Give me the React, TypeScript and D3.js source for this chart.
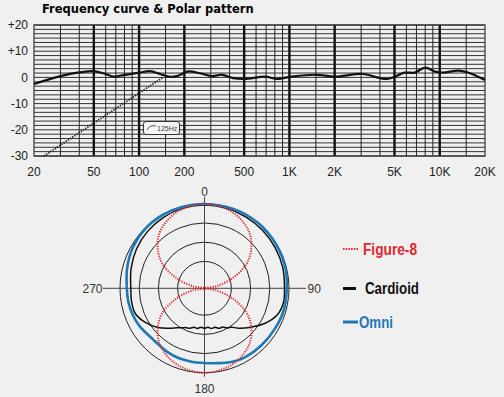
import React, { useEffect, useRef } from 'react';
import * as d3 from 'd3';

// frequency response
const freqHz = [20, 30, 40, 50, 60, 68, 79, 100, 118, 138, 157, 178, 212, 254, 306, 358, 422, 505, 690, 814, 1030, 1520, 2000, 3070, 4440, 5860, 6800, 8000, 9300, 10500, 13400, 15900, 20000];
const responseDb = [-2.5, 0.5, 1.9, 2.4, 1.3, 0.3, 0.9, 1.8, 2.4, 1.3, 0.3, 0.5, 2.3, 1.6, 0.5, 1.0, -0.3, -0.6, 0.3, -0.6, 0.3, 1.0, 0.3, 1.3, -0.6, 1.8, 1.8, 3.7, 2.2, 1.8, 2.6, 1.6, -1.0];

// 125Hz low cut
const lowCutHz = [23.3, 144];
const lowCutDb = [-30, 0];

const freqTickValues = [20, 50, 100, 200, 500, 1000, 2000, 5000, 10000, 20000];
const freqTickLabels = ['20', '50', '100', '200', '500', '1K', '2K', '5K', '10K', '20K'];
const majorFreqLines = [50, 100, 200, 500, 1000, 2000, 5000, 10000];
const minorFreqLines = [30, 40, 60, 70, 80, 90, 150, 300, 400, 600, 700, 800, 900, 1500, 3000, 4000, 6000, 7000, 8000, 9000, 15000];
const dbTickValues = [20, 10, 0, -10, -20, -30];
const dbTickLabels = ['+20', '+10', '0', '-10', '-20', '-30'];

// polar pattern, level in dB by angle in degrees
const fig8Angles = [0, 10, 20, 30, 40, 50, 60, 70, 80, 90, 100, 110, 120, 130, 140, 150, 160, 170, 180, 190, 200, 210, 220, 230, 240, 250, 260, 270, 280, 290, 300, 310, 320, 330, 340, 350];
const fig8Db = [0, -0.3, -0.9, -2.0, -3.6, -6.1, -9.4, -14.2, -18.9, -22, -18.9, -14.2, -9.4, -6.1, -3.6, -2.0, -0.9, -0.3, 0, -0.3, -0.9, -2.0, -3.6, -6.1, -9.4, -14.2, -18.9, -22, -18.9, -14.2, -9.4, -6.1, -3.6, -2.0, -0.9, -0.3];

const cardioidAngles = [0, 15, 30, 45, 60, 75, 90, 100, 110, 120, 130, 140, 145, 150, 155, 160, 165, 170, 175, 180, 185, 190, 195, 200, 205, 210, 215, 220, 230, 240, 250, 260, 270, 285, 300, 315, 330, 345];
const cardioidDb = [-0.31, -0.39, -0.52, -0.65, -0.78, -0.91, -1.17, -1.1, -1.82, -3.78, -6.25, -8.46, -9.63, -10.08, -10.86, -10.91, -11.53, -11.38, -11.85, -11.59, -11.85, -11.4, -11.51, -10.96, -10.7, -10.13, -9.43, -8.46, -6.12, -4.22, -2.81, -2.7, -2.81, -2.21, -1.56, -1.04, -0.65, -0.39];

const omniAngles = [0, 20, 40, 60, 75, 90, 105, 120, 135, 150, 160, 170, 180, 190, 200, 210, 225, 240, 250, 260, 270, 285, 300, 315, 330, 345];
const omniDb = [-0.05, 0, 0, -0.13, -0.26, -0.57, -0.6, -0.86, -1.02, -1.17, -1.56, -2.21, -2.55, -2.6, -2.6, -2.81, -3.1, -2.42, -2.08, -1.87, -1.77, -1.17, -0.52, -0.13, 0, 0];

const ringDb = [0, -5, -10, -15];
const polarLabels = ['0', '90', '180', '270'];

const legendNames = ['Figure-8', 'Cardioid', 'Omni'];
const legendColors = ['#e3262d', '#111111', '#1f78b4'];

const App = () => {
  const ref = useRef<SVGSVGElement>(null);

  useEffect(() => {
    const svg = d3.select(ref.current);
    svg.selectAll('*').remove();

    svg.append('rect').attr('width', 504).attr('height', 397).attr('fill', '#f0f0f0');

    svg
      .append('text')
      .attr('x', 42)
      .attr('y', 13)
      .attr('font-family', 'DejaVu Sans')
      .attr('font-weight', 'bold')
      .attr('font-size', 11.5)
      .attr('fill', '#000')
      .text('Frequency curve & Polar pattern');

    // ---- frequency response ----
    const x = d3.scaleLog().domain([20, 20000]).range([34, 485]);
    const y = d3.scaleLinear().domain([-30, 20]).range([156, 25]);

    const grid = svg.append('g');
    const hLines = d3.range(0, 31).map((i) => -30 + (i * 50) / 30);
    grid
      .selectAll('line.h')
      .data(hLines)
      .enter()
      .append('line')
      .attr('x1', x(20))
      .attr('x2', x(20000))
      .attr('y1', (d) => y(d))
      .attr('y2', (d) => y(d))
      .attr('stroke', '#333')
      .attr('stroke-width', 1);

    grid
      .selectAll('line.minor')
      .data(minorFreqLines)
      .enter()
      .append('line')
      .attr('x1', (d) => x(d))
      .attr('x2', (d) => x(d))
      .attr('y1', y(20))
      .attr('y2', y(-30))
      .attr('stroke', '#222')
      .attr('stroke-width', 1);

    grid
      .selectAll('line.major')
      .data(majorFreqLines)
      .enter()
      .append('line')
      .attr('x1', (d) => x(d))
      .attr('x2', (d) => x(d))
      .attr('y1', y(20))
      .attr('y2', y(-30))
      .attr('stroke', '#111')
      .attr('stroke-width', 2.4);

    grid
      .append('rect')
      .attr('x', x(20))
      .attr('y', y(20))
      .attr('width', x(20000) - x(20))
      .attr('height', y(-30) - y(20))
      .attr('fill', 'none')
      .attr('stroke', '#333')
      .attr('stroke-width', 1.2);

    svg
      .selectAll('text.ylab')
      .data(dbTickValues)
      .enter()
      .append('text')
      .attr('x', 28)
      .attr('y', (d) => y(d))
      .attr('dy', '0.35em')
      .attr('text-anchor', 'end')
      .attr('font-family', 'Liberation Sans, Arial, sans-serif')
      .attr('font-size', 12)
      .attr('fill', '#222')
      .text((d, i) => dbTickLabels[i]);

    svg
      .selectAll('text.xlab')
      .data(freqTickValues)
      .enter()
      .append('text')
      .attr('x', (d) => x(d))
      .attr('y', 176)
      .attr('text-anchor', 'middle')
      .attr('font-family', 'Liberation Sans, Arial, sans-serif')
      .attr('font-size', 12)
      .attr('fill', '#222')
      .text((d, i) => freqTickLabels[i]);

    const lowCut = d3
      .line<number>()
      .x((d) => x(d))
      .y((d, i) => y(lowCutDb[i]));
    svg
      .append('path')
      .attr('d', lowCut(lowCutHz))
      .attr('fill', 'none')
      .attr('stroke', '#222')
      .attr('stroke-width', 2)
      .attr('stroke-dasharray', '1.3,1.3');

    const response = d3
      .line<number>()
      .x((d) => x(d))
      .y((d, i) => y(responseDb[i]))
      .curve(d3.curveCatmullRom.alpha(0.5));
    svg
      .append('path')
      .attr('d', response(freqHz))
      .attr('fill', 'none')
      .attr('stroke', '#111')
      .attr('stroke-width', 2.2);

    // 125Hz badge
    const badge = svg.append('g');
    badge
      .append('rect')
      .attr('x', 143.5)
      .attr('y', 121.5)
      .attr('width', 36)
      .attr('height', 13)
      .attr('rx', 2.5)
      .attr('fill', '#f5f5f5')
      .attr('stroke', '#333')
      .attr('stroke-width', 1);
    badge
      .append('path')
      .attr('d', 'M147,130 Q149,126 152,125.8 L156,125.8')
      .attr('fill', 'none')
      .attr('stroke', '#333')
      .attr('stroke-width', 0.8);
    badge
      .append('text')
      .attr('x', 157)
      .attr('y', 130.5)
      .attr('font-family', 'Liberation Sans, Arial, sans-serif')
      .attr('font-size', 7)
      .attr('fill', '#444')
      .text('125Hz');

    // ---- polar pattern ----
    const cx = 204.5;
    const cy = 288.3;
    const r = d3.scaleLinear().domain([-22, 0]).range([0, 84.5]).clamp(true);
    const polar = svg.append('g').attr('transform', `translate(${cx},${cy})`);

    polar
      .selectAll('circle')
      .data(ringDb)
      .enter()
      .append('circle')
      .attr('r', (d) => r(d))
      .attr('fill', 'none')
      .attr('stroke', '#222')
      .attr('stroke-width', 1);

    polar.append('line').attr('x1', -101.5).attr('x2', 101.5).attr('stroke', '#444').attr('stroke-width', 1);
    polar.append('line').attr('y1', -91.5).attr('y2', 88.5).attr('stroke', '#444').attr('stroke-width', 1);

    const labelPos = [
      [0, -97, 'middle'],
      [103, 0, 'start'],
      [0, 101, 'middle'],
      [-102, 0, 'end'],
    ];
    polar
      .selectAll('text')
      .data(polarLabels)
      .enter()
      .append('text')
      .attr('x', (d, i) => labelPos[i][0] as number)
      .attr('y', (d, i) => labelPos[i][1] as number)
      .attr('dy', '0.35em')
      .attr('text-anchor', (d, i) => labelPos[i][2] as string)
      .attr('font-family', 'Liberation Sans, Arial, sans-serif')
      .attr('font-size', 12)
      .attr('fill', '#333')
      .text((d) => d);

    const radial = (dbs: number[]) =>
      d3
        .lineRadial<number>()
        .angle((d) => (d * Math.PI) / 180)
        .radius((d, i) => r(dbs[i]))
        .curve(d3.curveCatmullRomClosed.alpha(0.5));

    polar
      .append('path')
      .attr('d', radial(cardioidDb)(cardioidAngles))
      .attr('fill', 'none')
      .attr('stroke', legendColors[1])
      .attr('stroke-width', 1.5);

    polar
      .append('path')
      .attr('d', radial(omniDb)(omniAngles))
      .attr('fill', 'none')
      .attr('stroke', legendColors[2])
      .attr('stroke-width', 2.6);

    polar
      .append('path')
      .attr('d', radial(fig8Db)(fig8Angles))
      .attr('fill', 'none')
      .attr('stroke', legendColors[0])
      .attr('stroke-width', 2)
      .attr('stroke-dasharray', '1.2,1.3');

    // legend
    const legendY = [249, 288.5, 322];
    const legendTextX = [363, 365, 359];
    const legendTextW = [54, 54, 34];
    const legendLineX2 = [359, 356, 358];
    const legend = svg.append('g');
    legend
      .selectAll('line')
      .data(legendNames)
      .enter()
      .append('line')
      .attr('x1', 343)
      .attr('x2', (d, i) => legendLineX2[i])
      .attr('y1', (d, i) => legendY[i])
      .attr('y2', (d, i) => legendY[i])
      .attr('stroke', (d, i) => legendColors[i])
      .attr('stroke-width', (d, i) => (i === 0 ? 2 : 3))
      .attr('stroke-dasharray', (d, i) => (i === 0 ? '1.5,1.2' : null));
    legend
      .selectAll('text')
      .data(legendNames)
      .enter()
      .append('text')
      .attr('x', (d, i) => legendTextX[i])
      .attr('y', (d, i) => legendY[i] + 5.5)
      .attr('font-family', 'Liberation Sans, Arial, sans-serif')
      .attr('font-weight', 'bold')
      .attr('font-size', 16)
      .attr('textLength', (d, i) => legendTextW[i])
      .attr('lengthAdjust', 'spacingAndGlyphs')
      .attr('fill', (d, i) => legendColors[i])
      .text((d) => d);
  }, []);

  return (
    <div style={{ position: 'absolute', left: 0, top: 0 }}>
      <svg ref={ref} width={504} height={397} style={{ display: 'block' }} />
    </div>
  );
};

export default App;
